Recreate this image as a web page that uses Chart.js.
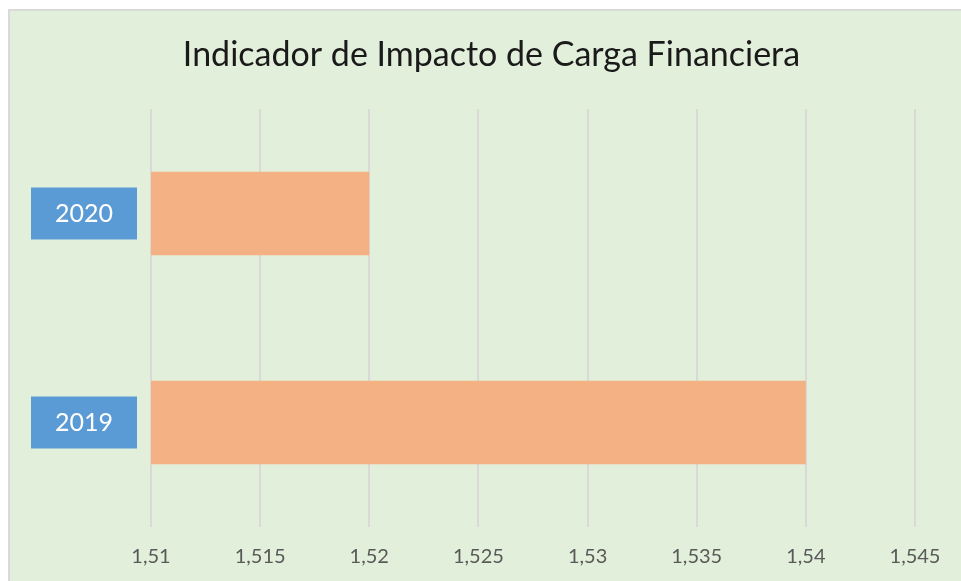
<!DOCTYPE html>
<html>
<head>
<meta charset="utf-8">
<script src="https://cdn.jsdelivr.net/npm/chart.js@4"></script>
<style>
  html, body { margin: 0; padding: 0; width: 961px; height: 581px; overflow: hidden; background: #ffffff; }
  #frame { position: absolute; left: 8px; top: 9px; width: 980px; height: 600px; background: #E2EFDA; border-left: 2px solid #D9D9D9; border-top: 2px solid #D9D9D9; }
  #wrap { position: absolute; left: 0; top: 0; width: 961px; height: 581px; }
</style>
</head>
<body>
<div id="frame"></div>
<div id="wrap"><canvas id="c" width="961" height="581"></canvas></div>
<script>
const categories = ['2020', '2019'];
const values = [1.52, 1.54];
const xMin = 1.51;
const xMax = 1.545;
const xStep = 0.005;
const titleText = 'Indicador de Impacto de Carga Financiera';

const fmt = v => Number(v.toFixed(3)).toString().replace('.', ',');

const titlePlugin = {
  id: 'centeredTitle',
  afterDraw(chart) {
    const ctx = chart.ctx;
    ctx.save();
    ctx.font = 'normal 34px Lato';
    ctx.fillStyle = '#1a1a1a';
    ctx.textAlign = 'center';
    ctx.textBaseline = 'middle';
    ctx.fillText(titleText, 491.5, 55);
    ctx.restore();
  }
};

new Chart(document.getElementById('c'), {
  type: 'bar',
  data: {
    labels: categories,
    datasets: [{
      data: values,
      backgroundColor: '#F4B183',
      borderWidth: 0,
      categoryPercentage: 0.8,
      barPercentage: 0.5
    }]
  },
  options: {
    indexAxis: 'y',
    responsive: false,
    animation: false,
    layout: { padding: { left: 0, right: 46, top: 109, bottom: 0 } },
    plugins: {
      legend: { display: false },
      tooltip: { enabled: false },
      title: { display: false }
    },
    scales: {
      x: {
        min: xMin,
        max: xMax,
        border: { display: false },
        grid: { color: '#D9D9D9', lineWidth: 2, drawTicks: false },
        ticks: {
          stepSize: xStep,
          color: '#595959',
          font: { family: 'Lato', size: 20 },
          padding: 18,
          callback: v => fmt(v)
        },
        afterFit: s => { s.height = 54; }
      },
      y: {
        border: { display: false },
        grid: { display: false, drawTicks: false },
        ticks: {
          color: '#ffffff',
          font: { family: 'Lato', size: 25, lineHeight: 1.2 },
          padding: 38,
          showLabelBackdrop: true,
          backdropColor: '#5B9BD5',
          backdropPadding: { left: 24, right: 24, top: 11, bottom: 11 }
        },
        afterFit: s => { s.width = 151; }
      }
    }
  },
  plugins: [titlePlugin]
});
</script>
</body>
</html>
